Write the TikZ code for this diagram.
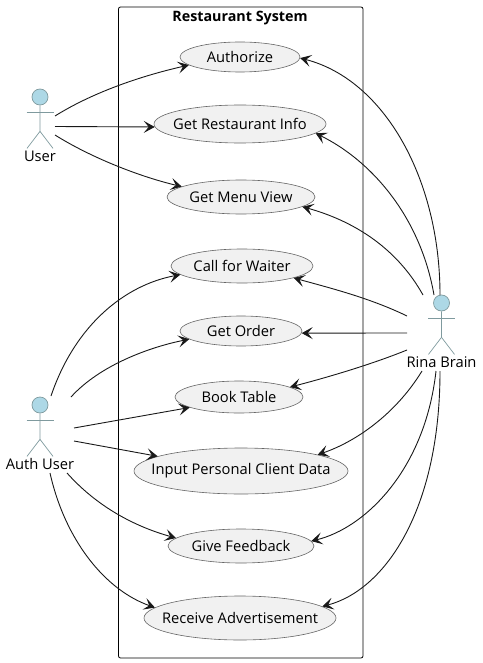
\documentclass[tikz,border=0pt]{standalone}
\usepackage{fontspec}
\setmainfont{Open Sans}
\usepackage{xcolor}
\usepackage{tikz}
\usetikzlibrary{arrows.meta}
\usetikzlibrary{shapes.geometric, calc, positioning}
\definecolor{casefill}{HTML}{F1F1F1}
\definecolor{actorfill}{HTML}{ADD8E6}
\definecolor{actorline}{HTML}{7F9A9E}
\tikzset{
	usecase/.style={ellipse,draw=black!60,fill=casefill,line width=0.6pt,inner sep=-30pt,font=\fontsize{14.7}{16}\selectfont},
	actorhead/.style={circle,draw=actorline,fill=actorfill,line width=0.7pt,minimum size=16pt,inner sep=0pt},
	actorbody/.style={draw=actorline,line width=0.7pt},
	actorname/.style={font=\fontsize{14.7}{16}\selectfont,inner sep=0pt},
	link/.style={-{Stealth[length=11pt,width=12pt,inset=5pt]},line width=0.9pt,black!90},
}
\begin{document}
\begin{tikzpicture}[x=1pt,y=-1pt]
	\useasboundingbox (0,0) rectangle (482,663);

	\draw[line width=0.8pt,rounded corners=2pt] (118.5,7) rectangle (363,658);
	\node[font=\fontsize{14.3}{16}\selectfont\bfseries] (title) at (240,18) {Restaurant System};

	% use cases
	\node[usecase,minimum width=120pt,minimum height=30pt] (authorize) at (240,57) {Authorize};
	\node[usecase,minimum width=172pt,minimum height=38pt] (info) at (240,124) {Get Restaurant Info};
	\node[usecase,minimum width=148pt,minimum height=34pt] (menu) at (241,197) {Get Menu View};
	\node[usecase,minimum width=142pt,minimum height=34pt] (waiter) at (242,266) {Call for Waiter};
	\node[usecase,minimum width=122pt,minimum height=30pt] (order) at (241,331) {Get Order};
	\node[usecase,minimum width=128pt,minimum height=32pt] (book) at (239,397) {Book Table};
	\node[usecase,minimum width=214pt,minimum height=46pt] (input) at (241,471) {Input Personal Client Data};
	\node[usecase,minimum width=146pt,minimum height=34pt] (feedback) at (241,546) {Give Feedback};
	\node[usecase,minimum width=192pt,minimum height=44pt] (advert) at (240,618) {Receive Advertisement};

	% actors
	\foreach \name/\label/\xa/\ya in {user/User/40/97,auth/Auth User/40/405,rina/Rina Brain/441.5/303}{
		\node[actorhead] (\name) at (\xa,\ya) {};
		\draw[actorbody] (\name.south) -- ++(0,26) coordinate (\name hip) -- ++(-13,17);
		\draw[actorbody] (\name hip) -- ++(13,17);
		\draw[actorbody] ($(\name)+(-13.5,15)$) -- ($(\name)+(13.5,15)$);
		\node[actorname] (\name name) at ($(\name)+(0,59)$) {\label};
	}

	\coordinate (u1) at (55,116);
	\coordinate (u2) at (55,126.5);
	\coordinate (u3) at (55,135);
	\coordinate (a1) at (51,396);
	\coordinate (a2) at (71,397);
	\coordinate (a3) at (74,428);
	\coordinate (a4) at (74,441);
	\coordinate (a5) at (67,473);
	\coordinate (a6) at (50,473);
	\coordinate (r1) at (440,295);
	\coordinate (r2) at (434,295);
	\coordinate (r3) at (423,295);
	\coordinate (r4) at (407,316);
	\coordinate (r5) at (407,333);
	\coordinate (r6) at (407,350);
	\coordinate (r7) at (422,371);
	\coordinate (r8) at (436,371);
	\coordinate (r9) at (440,371);

	\draw[link] (u1) .. controls (95,91) and (145,75) .. (authorize.189);
	\draw[link] (u2) -- (info.182);
	\draw[link] (u3) .. controls (95,160) and (145,178) .. (menu.170);

	\draw[link] (a1) .. controls (75,325) and (125,285) .. (waiter.188);
	\draw[link] (a2) .. controls (100,365) and (150,347) .. (order.189);
	\draw[link] (a3) -- (book.192);
	\draw[link] (a4) -- (input.170);
	\draw[link] (a5) .. controls (100,510) and (140,528) .. (feedback.173);
	\draw[link] (a6) .. controls (65,540) and (105,590) .. (advert.173);

	\draw[link] (r1) .. controls (440,180) and (385,80) .. (authorize.-1);
	\draw[link] (r2) .. controls (420,215) and (370,160) .. (info.-7);
	\draw[link] (r3) .. controls (395,245) and (350,220) .. (menu.-9);
	\draw[link] (r4) .. controls (370,298) and (330,288) .. (waiter.-13);
	\draw[link] (r5) -- (order.-2);
	\draw[link] (r6) .. controls (370,365) and (325,378) .. (book.11);
	\draw[link] (r7) .. controls (395,415) and (355,442) .. (input.12);
	\draw[link] (r8) .. controls (425,470) and (365,528) .. (feedback.4);
	\draw[link] (r9) .. controls (440,510) and (385,590) .. (advert.8);
\end{tikzpicture}
\end{document}
